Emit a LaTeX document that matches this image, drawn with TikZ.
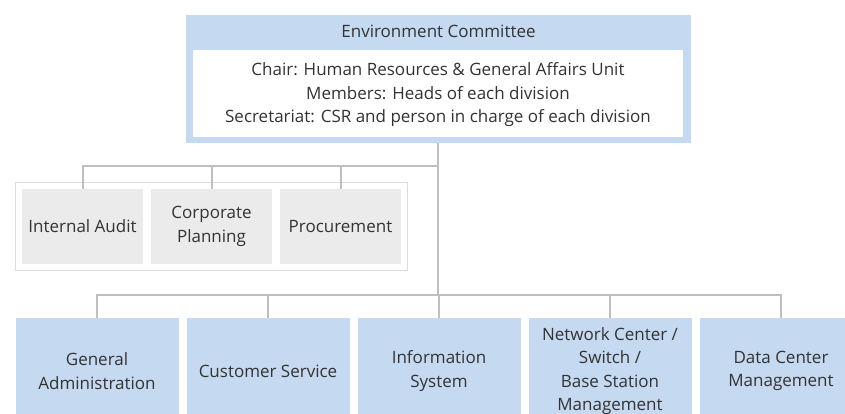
\documentclass[tikz,border=0pt]{standalone}
\usepackage{fontspec}
\setmainfont{Open Sans}
\usetikzlibrary{fit}

\definecolor{unitblue}{HTML}{C5D9F1}
\definecolor{staffgray}{HTML}{EBEBEB}
\definecolor{framegray}{HTML}{DCDCDC}
\definecolor{linegray}{HTML}{BFBFBF}
\definecolor{textgray}{HTML}{333333}

\begin{document}
\begin{tikzpicture}[
    x=1pt, y=-1pt,
    every node/.style={anchor=center, text=textgray, font=\fontsize{17}{23.5}\selectfont, align=center, inner sep=0pt},
    committee/.style={fill=unitblue, minimum width=505pt, minimum height=128pt},
    members/.style={fill=white, minimum width=490pt, minimum height=87pt},
    staff/.style={fill=staffgray, minimum width=121pt, minimum height=75pt},
    division/.style={fill=unitblue, minimum width=163pt, minimum height=106pt},
    group/.style={draw=framegray, line width=1.5pt, inner sep=6.5pt},
    conn/.style={draw=linegray, line width=2pt}
    ]
\clip (0,0) rectangle (845,414);
\useasboundingbox (0,0) rectangle (845,414);

% Committee
\node[committee] (committee) at (438.5,79) {};
\node (title) at (438.5,31) {Environment Committee};
\node[members] (members) at (438,93.5) {};
\node (memberstext) at (438,95) {Chair: Human Resources \& General Affairs Unit\\Members: Heads of each division\\Secretariat: CSR and person in charge of each division};

% Staff units
\node[staff] (audit) at (82.5,226.5) {Internal Audit};
\node[staff] (planning) at (211.5,226.5) {Corporate\\Planning};
\node[staff] (procure) at (340.5,226.5) {Procurement};
\node[group, fit=(audit)(procure)] (staffgroup) {};

% Divisions
\node[division] (admin) at (97,371) {General\\Administration};
\node[division] (service) at (268,371) {Customer Service};
\node[division] (infosys) at (439,371) {Information\\System};
\node[division] (network) at (610,371) {Network Center /\\Switch /\\Base Station\\Management};
\node[division] (datacenter) at (781,371) {Data Center\\Management};

% Connectors
\coordinate (staffhub) at (438,166);
\coordinate (divhub) at (438,295);
\draw[conn] (committee.south -| staffhub) -- (divhub);
\draw[conn] (staffhub) -| (audit.north);
\draw[conn] (staffhub) -| (planning.north);
\draw[conn] (staffhub) -| (procure.north);
\draw[conn] (divhub) -| (admin.north);
\draw[conn] (divhub) -| (service.north);
\draw[conn] (divhub) -| (infosys.north);
\draw[conn] (divhub) -| (network.north);
\draw[conn] (divhub) -| (datacenter.north);

\end{tikzpicture}
\end{document}
